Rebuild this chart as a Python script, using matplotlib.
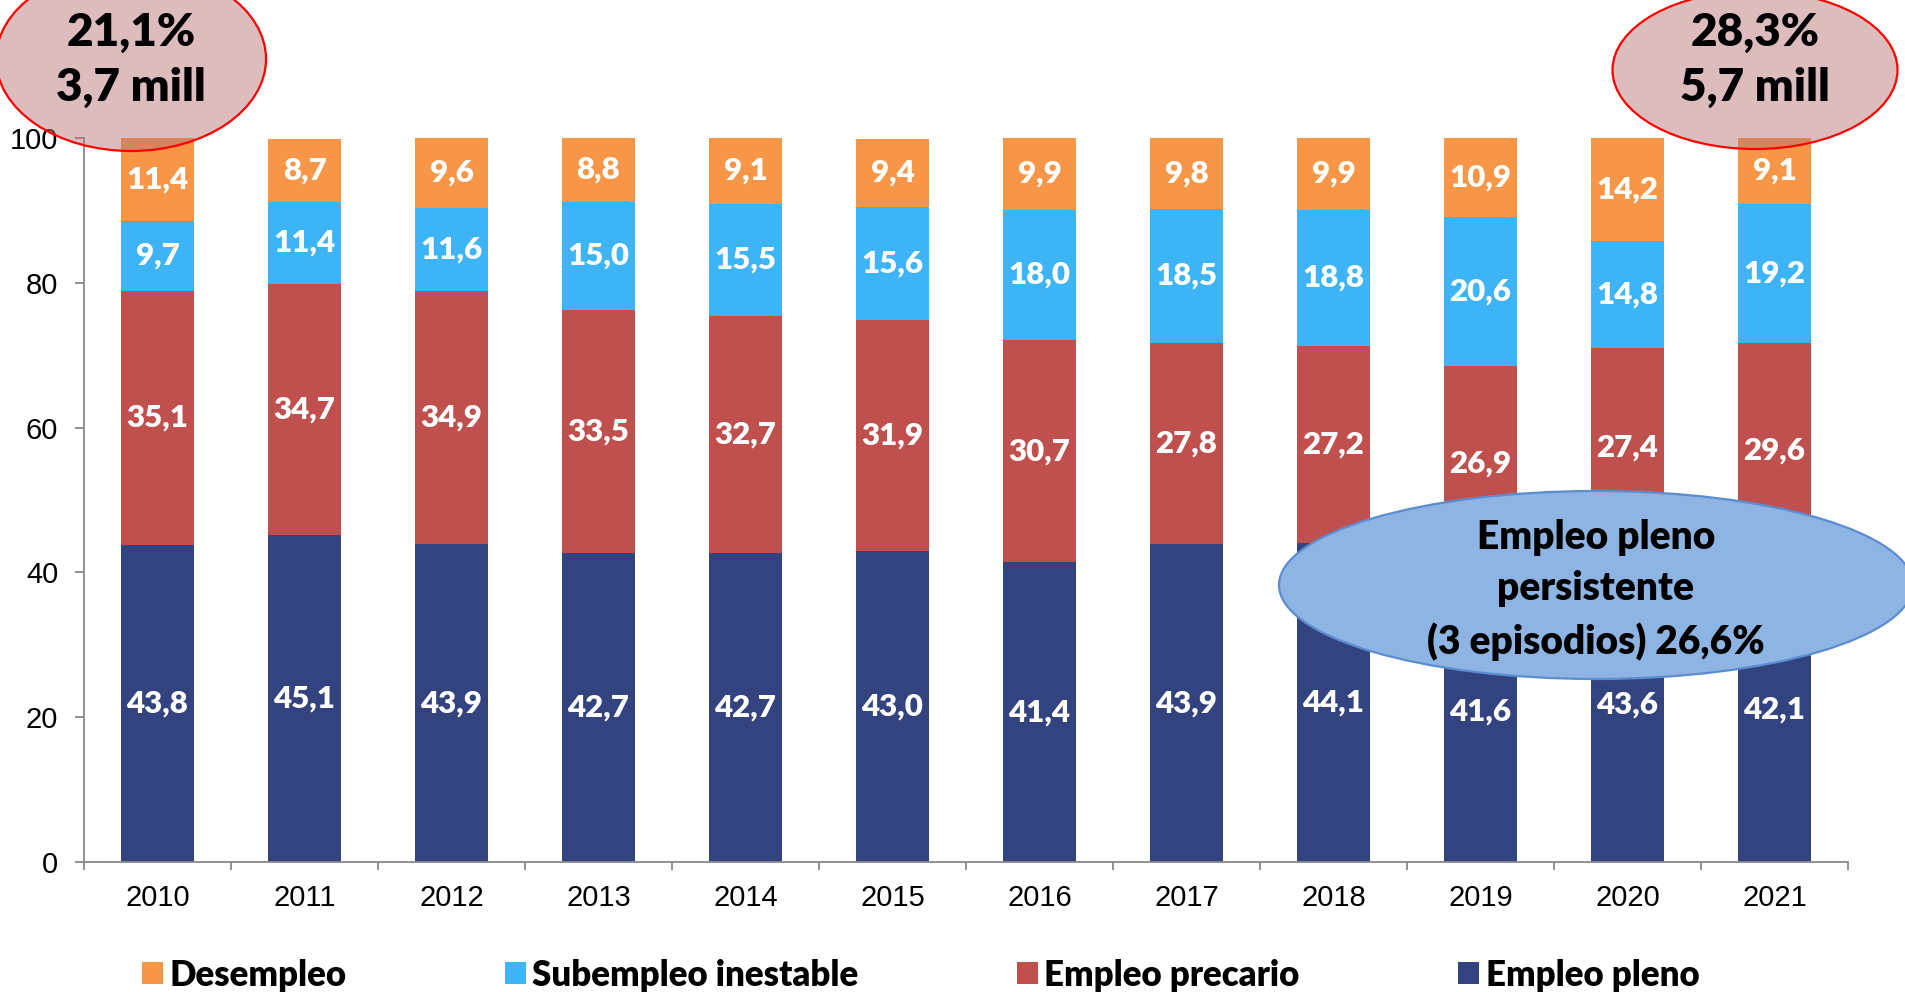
import matplotlib
matplotlib.use("Agg")
import matplotlib.pyplot as plt
from matplotlib.patches import Ellipse, Patch
import numpy as np

years = ["2010", "2011", "2012", "2013", "2014", "2015", "2016", "2017", "2018", "2019", "2020", "2021"]
empleo_pleno = [43.8, 45.1, 43.9, 42.7, 42.7, 43.0, 41.4, 43.9, 44.1, 41.6, 43.6, 42.1]
empleo_precario = [35.1, 34.7, 34.9, 33.5, 32.7, 31.9, 30.7, 27.8, 27.2, 26.9, 27.4, 29.6]
subempleo = [9.7, 11.4, 11.6, 15.0, 15.5, 15.6, 18.0, 18.5, 18.8, 20.6, 14.8, 19.2]
desempleo = [11.4, 8.7, 9.6, 8.8, 9.1, 9.4, 9.9, 9.8, 9.9, 10.9, 14.2, 9.1]
series_names = ["Empleo pleno", "Empleo precario", "Subempleo inestable", "Desempleo"]
colors = ["#334380", "#C0504D", "#3DB4F6", "#F79646"]

W, H = 1906, 992
fig = plt.figure(figsize=(W / 100, H / 100), dpi=100)
ax = fig.add_axes([84 / W, 1 - 862 / H, (1848 - 84) / W, (862 - 138) / H])

LBL = ["Lato", "DejaVu Sans"]
HEAVY = "heavy"
x = np.arange(len(years))
bottom = np.zeros(len(years))
for vals, col in zip([empleo_pleno, empleo_precario, subempleo, desempleo], colors):
    vals = np.array(vals)
    ax.bar(x, vals, width=0.5, bottom=bottom, color=col, edgecolor="none", zorder=2)
    for xi, b, v in zip(x, bottom, vals):
        ax.text(xi, b + v / 2, f"{v:.1f}".replace(".", ","), ha="center", va="center",
                color="white", fontsize=22.5, fontweight=HEAVY, family=LBL, zorder=3)
    bottom += vals

ax.set_xlim(-0.5, len(years) - 0.5)
ax.set_ylim(0, 100)
for s in ["top", "right"]:
    ax.spines[s].set_visible(False)
for s in ["left", "bottom"]:
    ax.spines[s].set_color("#888888")
    ax.spines[s].set_linewidth(1.3)

ax.set_yticks([0, 20, 40, 60, 80, 100])
ax.tick_params(axis="y", length=6.5, width=1.3, color="#888888", pad=12,
               labelsize=21, labelfontfamily="Liberation Sans")
ax.set_xticks(x)
ax.set_xticklabels(years)
ax.tick_params(axis="x", which="major", length=0, pad=16, labelsize=21,
               labelfontfamily="Liberation Sans")
ax.set_xticks(np.arange(-0.5, len(years), 1.0), minor=True)
ax.tick_params(axis="x", which="minor", length=6, width=1.3, color="#888888")


def fx(px):
    return px / W


def fy(py):
    return 1 - py / H


# top ellipses
for cx, cy, w, h, t in [(131, 59, 270, 184, "21,1%\n3,7 mill"), (1755, 70, 285, 158, "28,3%\n5,7 mill")]:
    e = Ellipse((fx(cx), fy(cy)), w / W, h / H, transform=fig.transFigure,
                facecolor=(0.72, 0.45, 0.47, 0.48), edgecolor="#FF0000", linewidth=1.6, zorder=5)
    fig.add_artist(e)
    fig.text(fx(cx), fy(60), t, ha="center", va="center", fontsize=33, fontweight=HEAVY,
             family=LBL, color="black", linespacing=1.4, zorder=6)

# blue ellipse
e = Ellipse((fx(1596), fy(585)), 634 / W, 188 / H, transform=fig.transFigure,
            facecolor="#8DB4E2", edgecolor="#5B8DD0", linewidth=1.6, zorder=5)
fig.add_artist(e)
fig.text(fx(1596), fy(590), "Empleo pleno\npersistente\n(3 episodios) 26,6%", ha="center", va="center",
         fontsize=28, fontweight=HEAVY, family=LBL, color="black", linespacing=1.48, zorder=6)

handles = [Patch(facecolor=colors[3]), Patch(facecolor=colors[2]), Patch(facecolor=colors[1]), Patch(facecolor=colors[0])]
labels = ["Desempleo", "Subempleo inestable", "Empleo precario", "Empleo pleno"]
fig.legend(handles, labels, loc="center", bbox_to_anchor=(0.483, 0.017), ncol=4, frameon=False,
           prop={"family": LBL, "weight": HEAVY, "size": 25}, handlelength=0.6, handleheight=0.6,
           handletextpad=0.2, columnspacing=4.55, borderaxespad=0)

fig.savefig("out.png", dpi=100)
